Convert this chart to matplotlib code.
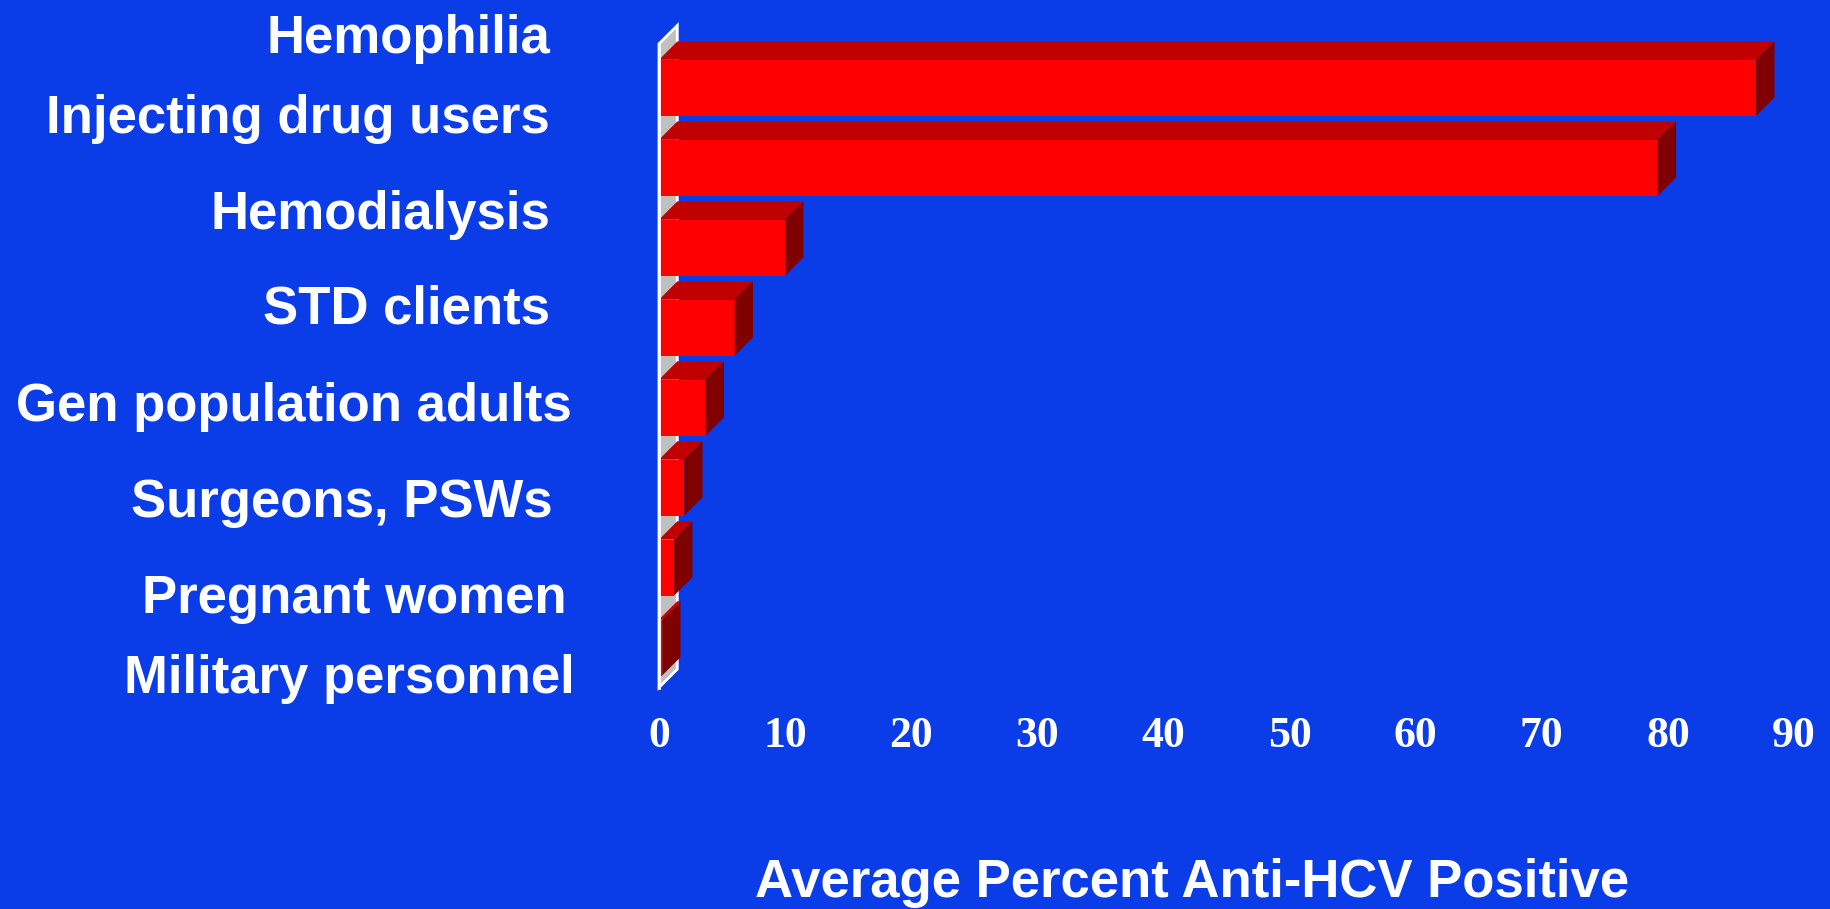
import matplotlib
matplotlib.use("Agg")
import matplotlib.pyplot as plt
from matplotlib.patches import Polygon
from matplotlib.transforms import blended_transform_factory

# data
categories = ["Hemophilia", "Injecting drug users", "Hemodialysis", "STD clients",
              "Gen population adults", "Surgeons, PSWs", "Pregnant women",
              "Military personnel"]
values = [87.0, 79.2, 10.0, 6.0, 3.7, 2.0, 1.2, 0.25]
ticks = [0, 10, 20, 30, 40, 50, 60, 70, 80, 90]

# label placement (pixels, right edge / baseline), labels sit off the bars like the original slide
label_right = [550, 550, 550, 550, 572, 553, 567, 575]
label_base = [52.7, 132.7, 228.7, 324, 421, 516.7, 613.3, 692.7]

W, H = 1830, 909
bg = "#0a3ce8"
front = "#ff0000"
top_c = "#c00000"
side_c = "#800000"
wall_c = "#c0c0c0"

fig = plt.figure(figsize=(W / 100, H / 100), dpi=100, facecolor=bg)
ax = fig.add_axes([659 / W, 1 - 687.5 / H, (1794 - 659) / W, (687.5 - 43.8) / H])
ax.set_facecolor(bg)
ax.set_xlim(0, 90)
ax.set_ylim(7.5, -0.55)
ax.axis("off")

# 3d depth in data units
depth_px = 18.3
dx = depth_px / ((1794 - 659) / 90)
dy = depth_px / ((687.5 - 43.8) / 8.05)

# back wall
y0, y1 = -0.55, 7.5
wall = Polygon([(0, y1), (0, y0), (dx, y0 - dy), (dx, y1 - dy)], closed=True,
               facecolor=wall_c, edgecolor="white", lw=2, zorder=1, clip_on=False)
ax.add_patch(wall)

bh = 0.7
for i, v in enumerate(values):
    t = i - bh / 2
    b = i + bh / 2
    ax.barh(i, v, height=bh, color=front, zorder=3, clip_on=False)
    ax.add_patch(Polygon([(0, t), (v, t), (v + dx, t - dy), (dx, t - dy)],
                         closed=True, facecolor=top_c, edgecolor="none", zorder=3, clip_on=False))
    ax.add_patch(Polygon([(v, t), (v + dx, t - dy), (v + dx, b - dy), (v, b)],
                         closed=True, facecolor=side_c, edgecolor="none", zorder=3, clip_on=False))

# white front edge of the wall
ax.plot([0, 0], [y0, y1], color="white", lw=2, zorder=4, clip_on=False)

# x tick labels
tr = blended_transform_factory(ax.transData, fig.transFigure)
for t in ticks:
    ax.text(t, 1 - 747 / H, str(t), transform=tr, ha="center", va="baseline",
            color="white", fontsize=31.5, fontweight="bold", family="Liberation Serif")

for name, xr, yb in zip(categories, label_right, label_base):
    fig.text(xr / W, 1 - yb / H, name, ha="right", va="baseline", color="white",
             fontsize=38, fontweight="bold", family="Liberation Sans")

fig.text(1192 / W, 1 - 897 / H, "Average Percent Anti-HCV Positive", ha="center",
         va="baseline", color="white", fontsize=38, fontweight="bold",
         family="Liberation Sans")

fig.savefig("out.png", dpi=100, facecolor=bg)
